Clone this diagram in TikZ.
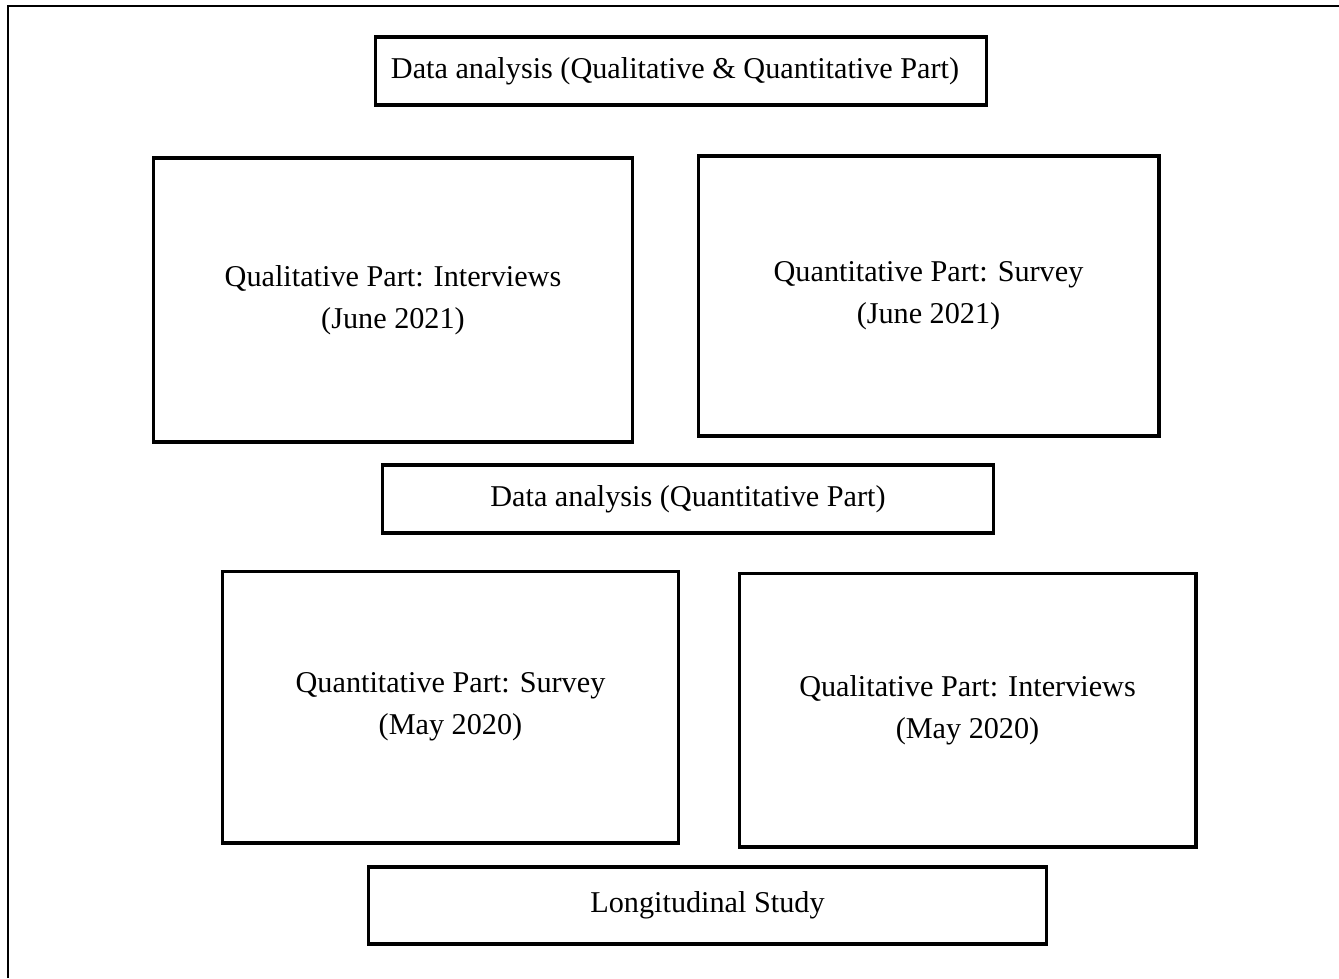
\documentclass[tikz,border=0pt]{standalone}
\usepackage{fontspec}
\setmainfont{Liberation Serif}
\tikzset{
    box/.style={draw, line width=1.75pt, rectangle, inner sep=0pt, align=center,
        font=\fontsize{17.2}{23.8}\selectfont}
}
\begin{document}
\begin{tikzpicture}[x=0.02cm, y=-0.02cm]
    
    % Cornice
    \useasboundingbox (0,0) rectangle (1339,978);
    \draw[line width=1.6pt] (8,978) -- (8,6) -- (1339,6);
    
    % Analisi
    \node[box, minimum width=12.24cm, minimum height=1.36cm] (datiTutti) at (681,71)
        {Data analysis (Qualitative \& Quantitative Part)\hspace*{0.24cm}};
    \node[box, minimum width=12.24cm, minimum height=1.36cm] (datiQuant) at (688,499)
        {Data analysis (Quantitative Part)};
    
    % Giugno 2021
    \node[box, minimum width=9.6cm, minimum height=5.68cm] (qualGiu) at (393,300)
        {Qualitative Part: Interviews\\(June 2021)};
    \node[box, minimum width=9.22cm, minimum height=5.6cm] (quantGiu) at (928.5,296)
        {Quantitative Part: Survey\\(June 2021)};
    
    % Maggio 2020
    \node[box, minimum width=9.14cm, minimum height=5.44cm] (quantMag) at (450.5,707)
        {Quantitative Part: Survey\\(May 2020)};
    \node[box, minimum width=9.14cm, minimum height=5.48cm] (qualMag) at (967.5,710)
        {Qualitative Part: Interviews\\(May 2020)};
    
    % Studio
    \node[box, minimum width=13.58cm, minimum height=1.54cm] (studio) at (707.5,905.5)
        {Longitudinal Study};
    
\end{tikzpicture}
\end{document}
